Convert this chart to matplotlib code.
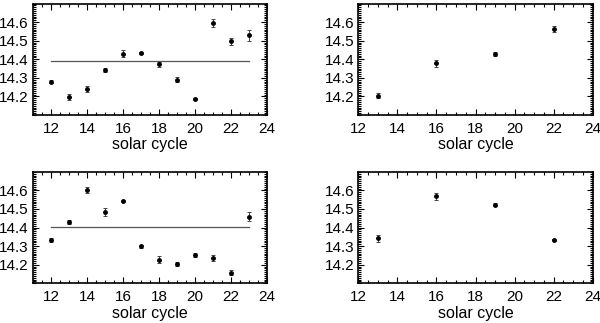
import matplotlib
matplotlib.use("Agg")
import matplotlib.pyplot as plt
from matplotlib.ticker import MultipleLocator

plt.rcParams["font.family"] = ["Liberation Sans", "DejaVu Sans"]

# -- data --------------------------------------------------------------------
cycles_all = [12, 13, 14, 15, 16, 17, 18, 19, 20, 21, 22, 23]
cycles_sub = [13, 16, 19, 22]

tl_vals = [14.28, 14.198, 14.239, 14.343, 14.430, 14.436, 14.373, 14.289, 14.186, 14.596, 14.496, 14.529]
tl_errs = [0.006, 0.015, 0.015, 0.010, 0.020, 0.005, 0.012, 0.013, 0.006, 0.020, 0.020, 0.030]
tl_mean = 14.389

tr_vals = [14.204, 14.379, 14.427, 14.5625]
tr_errs = [0.012, 0.018, 0.010, 0.015]

bl_vals = [14.333, 14.431, 14.602, 14.484, 14.545, 14.298, 14.227, 14.205, 14.252, 14.237, 14.157, 14.458]
bl_errs = [0.010, 0.010, 0.015, 0.020, 0.006, 0.006, 0.020, 0.012, 0.010, 0.015, 0.012, 0.025]
bl_mean = 14.404

br_vals = [14.342, 14.568, 14.524, 14.333]
br_errs = [0.020, 0.020, 0.006, 0.008]

y_ticks = [14.2, 14.3, 14.4, 14.5, 14.6]
x_ticks = [12, 14, 16, 18, 20, 22, 24]


def style_axes(ax, xlim):
    ax.set_xlim(*xlim)
    ax.set_ylim(14.1, 14.7)
    ax.set_xticks(x_ticks)
    ax.set_yticks(y_ticks)
    ax.set_yticklabels([f"{t:.1f}" for t in y_ticks])
    ax.xaxis.set_minor_locator(MultipleLocator(0.5))
    ax.yaxis.set_minor_locator(MultipleLocator(0.01))
    ax.tick_params(which="both", direction="in", top=True, right=True,
                   labelsize=11, width=0.8)
    ax.tick_params(which="major", length=4, pad=5)
    ax.tick_params(which="minor", length=2)
    ax.tick_params(axis="y", which="major", pad=3)
    for s in ax.spines.values():
        s.set_linewidth(1.2)
    ax.set_xlabel("solar cycle", fontsize=11.5, labelpad=1)


fig = plt.figure(figsize=(6.0, 3.23), dpi=100)
ax_tl = fig.add_axes([0.055, 0.644, 0.39, 0.345])
ax_tr = fig.add_axes([0.597, 0.644, 0.391, 0.345])
ax_bl = fig.add_axes([0.055, 0.123, 0.39, 0.345])
ax_br = fig.add_axes([0.597, 0.123, 0.391, 0.345])

panels = [
    (ax_tl, cycles_all, tl_vals, tl_errs, tl_mean, (11, 24)),
    (ax_tr, cycles_sub, tr_vals, tr_errs, None, (12, 24)),
    (ax_bl, cycles_all, bl_vals, bl_errs, bl_mean, (11, 24)),
    (ax_br, cycles_sub, br_vals, br_errs, None, (12, 24)),
]

for ax, x, y, e, mean, xlim in panels:
    ax.errorbar(x, y, yerr=e, fmt="o", color="black", ms=2.5,
                ecolor="#444444", elinewidth=0.7, capsize=1.5, capthick=0.7)
    if mean is not None:
        ax.plot([x[0], x[-1]], [mean, mean], color="#555555", lw=0.9)
    style_axes(ax, xlim)

fig.savefig("out.png", dpi=100)
